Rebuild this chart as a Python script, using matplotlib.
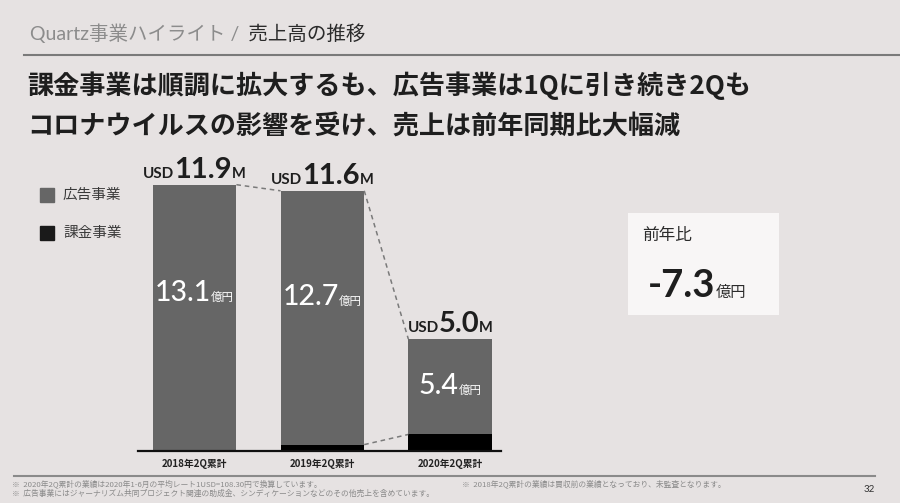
import matplotlib
matplotlib.use("Agg")
import matplotlib.pyplot as plt
import matplotlib.patches as mpatches

# ---------------- data ----------------
categories = ["2018年2Q累計", "2019年2Q累計", "2020年2Q累計"]
ad_values = [13.1, 12.5, 4.7]        # 広告事業 (億円)
billing_values = [0.0, 0.3, 0.8]     # 課金事業 (億円)
total_labels = ["13.1", "12.7", "5.4"]   # 億円
usd_labels = ["11.9", "11.6", "5.0"]     # USD M
yoy_label = "-7.3"
series_names = ["広告事業", "課金事業"]

header_grey = "Quartz事業ハイライト / "
header_dark = " 売上高の推移"
title_lines = ["課金事業は順調に拡大するも、広告事業は1Qに引き続き2Qも",
               "コロナウイルスの影響を受け、売上は前年同期比大幅減"]
footnotes_left = ["※  2020年2Q累計の業績は2020年1-6月の平均レート1USD=108.30円で換算しています。",
                  "※  広告事業にはジャーナリズム共同プロジェクト関連の助成金、シンディケーションなどのその他売上を含めています。"]
footnote_right = "※  2018年2Q累計の業績は買収前の業績となっており、未監査となります。"
page_no = "32"

# ---------------- style ----------------
W, H = 900, 503
BG = "#e6e2e2"
AD_C = "#666666"
BILL_C = "#000000"
CJK = ["Noto Sans CJK JP", "DejaVu Sans"]
LAT = ["Lato", "Noto Sans CJK JP", "DejaVu Sans"]
plt.rcParams["font.family"] = CJK

fig = plt.figure(figsize=(W / 100, H / 100), dpi=100, facecolor=BG)
R = fig.canvas.get_renderer()


def fx(px):
    return px / W


def fy(py):
    return 1 - py / H


def seq(x, y, pieces, ha="left"):
    """Place text pieces side by side on a common baseline (display pixels, y up)."""
    ts, ws = [], []
    for s, kw in pieces:
        t = fig.text(0, 0, s, va="baseline", ha="left", **kw)
        ts.append(t)
        ws.append(t.get_window_extent(R).width)
    cur = x - sum(ws) / 2 if ha == "center" else x
    for t, w in zip(ts, ws):
        t.set_position((cur / W, y / H))
        cur += w


# ---------------- header ----------------
seq(30, H - 40, [(header_grey, dict(fontsize=14, color="#8c8c8c", family=LAT)),
                 (header_dark, dict(fontsize=14, color="#2b2b2b", family=CJK))])
fig.add_artist(plt.Line2D([fx(24), 1], [fy(55), fy(55)], color="#7a7a7a", lw=1.5,
                          transform=fig.transFigure))

# ---------------- title ----------------
for i, (line, yc) in enumerate(zip(title_lines, [86, 126])):
    fig.text(fx(27), fy(yc), line, fontsize=18.8, fontweight="bold", color="#1e1e1e",
             va="center", ha="left", family=CJK)

# ---------------- bar chart ----------------
px_per_unit = 266 / ad_values[0]
base_px = 450.7
top_px = 100
ax = fig.add_axes([fx(138), fy(base_px), (501 - 138) / W, (base_px - top_px) / H])
ax.set_facecolor("none")
bw = 0.655
x = list(range(len(categories)))
ax.bar(x, ad_values, width=bw, color=AD_C, bottom=billing_values, zorder=2)
ax.bar(x, billing_values, width=bw, color=BILL_C, zorder=2)
ax.set_xlim(-bw / 2 - 0.115, len(x) - 1 + bw / 2 + 0.07)
ax.set_ylim(0, (base_px - top_px) / px_per_unit)
for s in ["top", "right", "left"]:
    ax.spines[s].set_visible(False)
ax.spines["bottom"].set_color("#111111")
ax.spines["bottom"].set_linewidth(1.6)
ax.set_yticks([])
ax.set_xticks(x)
ax.set_xticklabels(categories, fontsize=7, fontweight="bold", color="#222222", family=CJK)
ax.tick_params(axis="x", length=0, pad=6)

totals = [a + b for a, b in zip(ad_values, billing_values)]
# dashed connectors
for i in range(len(x) - 1):
    ax.plot([x[i] + bw / 2, x[i + 1] - bw / 2], [totals[i], totals[i + 1]],
            ls=(0, (3, 2.5)), color="#7a7a7a", lw=1.1, zorder=3)
    if billing_values[i] > 0:
        ax.plot([x[i] + bw / 2, x[i + 1] - bw / 2], [billing_values[i], billing_values[i + 1]],
                ls=(0, (3, 2.5)), color="#7a7a7a", lw=1.1, zorder=3)

# labels
for i in x:
    px, py = ax.transData.transform((x[i], totals[i]))
    seq(px, py + 7, [("USD", dict(fontsize=11, fontweight="bold", color="#1e1e1e", family=LAT)),
                     (usd_labels[i], dict(fontsize=21, fontweight="bold", color="#1e1e1e", family=LAT)),
                     ("M", dict(fontsize=10.5, fontweight="bold", color="#1e1e1e", family=LAT))],
        ha="center")
    px, py = ax.transData.transform((x[i], totals[i] * 0.6))
    seq(px, py - 10, [(total_labels[i], dict(fontsize=20.5, fontweight="medium", color="white", family=LAT)),
                      ("億円", dict(fontsize=8.3, color="white", family=CJK))], ha="center")

# legend
for (name, c), yc in zip(zip(series_names, [AD_C, "#1a1a1a"]), [195, 233]):
    fig.add_artist(mpatches.Rectangle((fx(39.5), fy(yc + 7)), 14 / W, 14 / H, color=c,
                                      transform=fig.transFigure))
    fig.text(fx(63), fy(yc), name, fontsize=10.5, color="#3a3a3a", va="center", ha="left", family=CJK)

# ---------------- YoY box ----------------
fig.add_artist(mpatches.Rectangle((fx(628), fy(315.3)), (779 - 628) / W, (315.3 - 212.7) / H,
                                  facecolor="#f8f6f6", edgecolor="none", transform=fig.transFigure))
fig.text(fx(642), fy(235), "前年比", fontsize=12, color="#2b2b2b", va="center", ha="left", family=CJK)
seq(648, H - 297, [(yoy_label, dict(fontsize=27.5, fontweight="bold", color="#1e1e1e", family=LAT)),
                   ("億円", dict(fontsize=11, color="#2b2b2b", family=CJK))])

# ---------------- footer ----------------
fig.add_artist(plt.Line2D([fx(14), fx(875)], [fy(476), fy(476)], color="#8a8a8a", lw=1.5,
                          transform=fig.transFigure))
for t, yc in zip(footnotes_left, [484, 494]):
    fig.text(fx(12), fy(yc), t, fontsize=5.6, color="#8a8a8a", va="center", ha="left", family=CJK)
fig.text(fx(462), fy(484), footnote_right, fontsize=5.6, color="#8a8a8a", va="center", ha="left", family=CJK)
fig.text(fx(875), fy(489), page_no, fontsize=7, color="#333333", va="center", ha="right", family=LAT)

fig.savefig("out.png", dpi=100, facecolor=BG)
